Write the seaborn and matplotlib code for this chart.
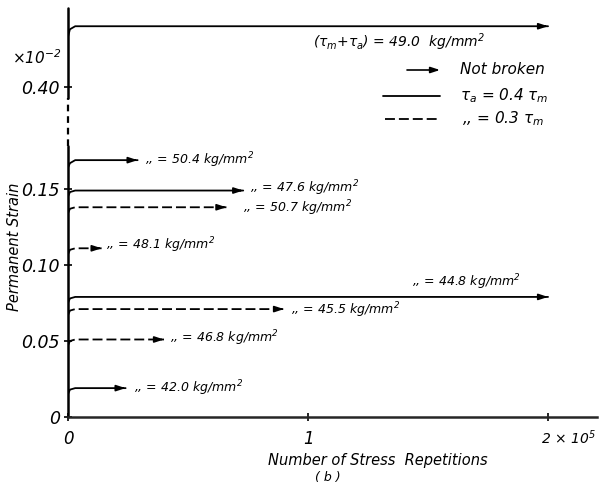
import numpy as np
import pandas as pd
import matplotlib
matplotlib.use("Agg")
import matplotlib.pyplot as plt
from matplotlib.lines import Line2D
import seaborn as sns

# Stress level of each specimen (kg/mm^2) and amplitude ratio tau_a / tau_m
stress = [49.0, 50.4, 47.6, 50.7, 48.1, 44.8, 45.5, 46.8, 42.0]
ratio = ["0.4", "0.4", "0.4", "0.3", "0.3", "0.4", "0.3", "0.3", "0.4"]

# Permanent strain (x10^-2): first, early and settled readings
strain_first = [0.433, 0.164, 0.145, 0.134, 0.107, 0.075, 0.067, 0.047, 0.015]
strain_early = [0.438, 0.167, 0.148, 0.137, 0.110, 0.078, 0.070, 0.050, 0.018]
strain_final = [0.440, 0.169, 0.149, 0.138, 0.111, 0.079, 0.071, 0.051, 0.019]

# Stress repetitions (x10^5) of those readings; last one = end of test (not broken)
n_first = 0.0
n_early = 0.008
n_settle = 0.03
n_end = [2.0, 0.29, 0.73, 0.66, 0.14, 2.0, 0.90, 0.40, 0.24]

y_ticks = [0, 0.05, 0.10, 0.15, 0.40]
y_ticklabels = ["0", "0.05", "0.10", "0.15", "0.40"]
x_ticks = [0, 1, 2]
x_ticklabels = ["0", "1", r"2 $\times$ 10$^5$"]

rows = []
for i, s in enumerate(stress):
    for n, e in [(n_first, strain_first[i]), (n_early, strain_early[i]),
                 (n_settle, strain_final[i]), (n_end[i], strain_final[i])]:
        rows.append({"specimen": s, "ratio": ratio[i], "reps": n, "strain": e})
df = pd.DataFrame(rows)

sns.set_style("ticks")
plt.rcParams["font.family"] = ["DejaVu Sans"]
plt.rcParams["font.style"] = "italic"
plt.rcParams["mathtext.fontset"] = "dejavusans"
plt.rcParams["mathtext.default"] = "it"
plt.rcParams["text.color"] = "black"
plt.rcParams["axes.labelcolor"] = "black"

W, H = 600, 487
fig = plt.figure(figsize=(W / 100, H / 100), dpi=100)
fig.patch.set_facecolor("white")


def fp(x, y):
    """Pixel position (from top-left) to figure fraction."""
    return x / W, 1 - y / H


ax = fig.add_axes([68 / W, (H - 417) / H, (597 - 68) / W, (417 - 8) / H])
ax.set_facecolor("white")

# Broken strain axis: the band between LO and HI is squeezed together
LO, HI, OFF = 0.178, 0.393, 0.1829


def fwd(y):
    y = np.asarray(y, float)
    mid = LO + (y - LO) * (HI - OFF - LO) / (HI - LO)
    return np.where(y <= LO, y, np.where(y >= HI, y - OFF, mid))


def inv(m):
    m = np.asarray(m, float)
    mid = LO + (m - LO) * (HI - LO) / (HI - OFF - LO)
    return np.where(m <= LO, m, np.where(m >= HI - OFF, m + OFF, mid))


ax.set_yscale("function", functions=(fwd, inv))
ax.set_ylim(0, 0.452)
ax.set_xlim(0, 2.204)

dash = (5.5, 2.2)
sns.lineplot(data=df, x="reps", y="strain", units="specimen", style="ratio",
             dashes={"0.4": "", "0.3": dash}, estimator=None, sort=False,
             color="black", lw=1.3, legend=False, ax=ax)

# Arrowheads: specimen not broken at end of test
arrow_kw = dict(arrowstyle="-|>,head_length=0.55,head_width=0.18", color="black",
                lw=1.2, shrinkA=0, shrinkB=0, mutation_scale=10)
for i in range(len(stress)):
    ax.annotate("", xy=(n_end[i], strain_final[i]),
                xytext=(n_end[i] - 0.02, strain_final[i]),
                arrowprops=arrow_kw, annotation_clip=False)

# Stress labels (offsets in pixels from the arrow tip, +y = up)
label_offset = {49.0: (-235, -16), 50.4: (7, 0), 47.6: (7, 2), 50.7: (17, -1),
                48.1: (4, 3), 44.8: (-136, 15), 45.5: (7, -1), 46.8: (6, 1),
                42.0: (8, 0)}
for i, s in enumerate(stress):
    dx, dy = label_offset[s]
    txt = (r"($\tau_m$+$\tau_a$) = 49.0  kg/mm$^2$" if i == 0
           else rf",, = {s:.1f} kg/mm$^2$")
    ax.annotate(txt, xy=(n_end[i], strain_final[i]),
                xytext=(dx * 0.72, dy * 0.72), textcoords="offset points",
                ha="left", va="center", fontsize=9 if i else 10,
                annotation_clip=False)

# Axes frame: left spine drawn by hand to show the break
for side in ["left", "top", "right"]:
    ax.spines[side].set_visible(False)
ax.spines["bottom"].set_linewidth(1.8)
ax.plot([0, 0], [0, LO], color="black", lw=1.8, clip_on=False)
ax.plot([0, 0], [LO, HI], color="black", lw=1.6, ls=(0, (3, 2.2)), clip_on=False)
ax.plot([0, 0], [HI, 0.452], color="black", lw=1.8, clip_on=False)

ax.set_yticks(y_ticks)
ax.set_yticklabels(y_ticklabels, fontsize=12.5)
ax.set_xticks(x_ticks)
ax.set_xticklabels(x_ticklabels[:2] + [""], fontsize=12)
# the last tick label starts at its tick and runs to the right
ax.annotate(x_ticklabels[2], xy=(x_ticks[2], 0), xytext=(-5, -15),
            textcoords="offset points", ha="left", va="center", fontsize=10,
            annotation_clip=False)
ax.minorticks_off()
ax.tick_params(axis="both", direction="inout", length=6, width=1.2,
               color="black", labelcolor="black")
ax.tick_params(axis="y", pad=3)
ax.tick_params(axis="x", pad=6)
ax.set_xlabel("")
ax.set_ylabel("")

fig.text(*fp(12, 58), r"$\times$10$^{-2}$", ha="left", va="center", fontsize=11)
fig.text(*fp(15, 247), "Permanent Strain", rotation=90, ha="center",
         va="center", fontsize=10.5)
fig.text(*fp(378, 460), "Number of Stress  Repetitions", ha="center",
         va="center", fontsize=10.5)
fig.text(*fp(328, 478), "( b )", ha="center", va="center", fontsize=9)

# Key
ax.annotate("", xy=fp(440, 70), xytext=fp(407, 70), xycoords="figure fraction",
            textcoords="figure fraction", arrowprops=arrow_kw)
fig.add_artist(Line2D([383 / W, 440 / W], [1 - 96 / H, 1 - 96 / H],
                      color="black", lw=1.3))
fig.add_artist(Line2D([385 / W, 440 / W], [1 - 119 / H, 1 - 119 / H],
                      color="black", lw=1.3, dashes=dash))
fig.text(*fp(460, 70), "Not broken", ha="left", va="center", fontsize=11)
fig.text(*fp(460, 96), r"$\tau_a$ = 0.4 $\tau_m$", ha="left", va="center",
         fontsize=11)
fig.text(*fp(462, 119), r",, = 0.3 $\tau_m$", ha="left", va="center", fontsize=11)

fig.savefig("out.png", dpi=100, facecolor="white")
